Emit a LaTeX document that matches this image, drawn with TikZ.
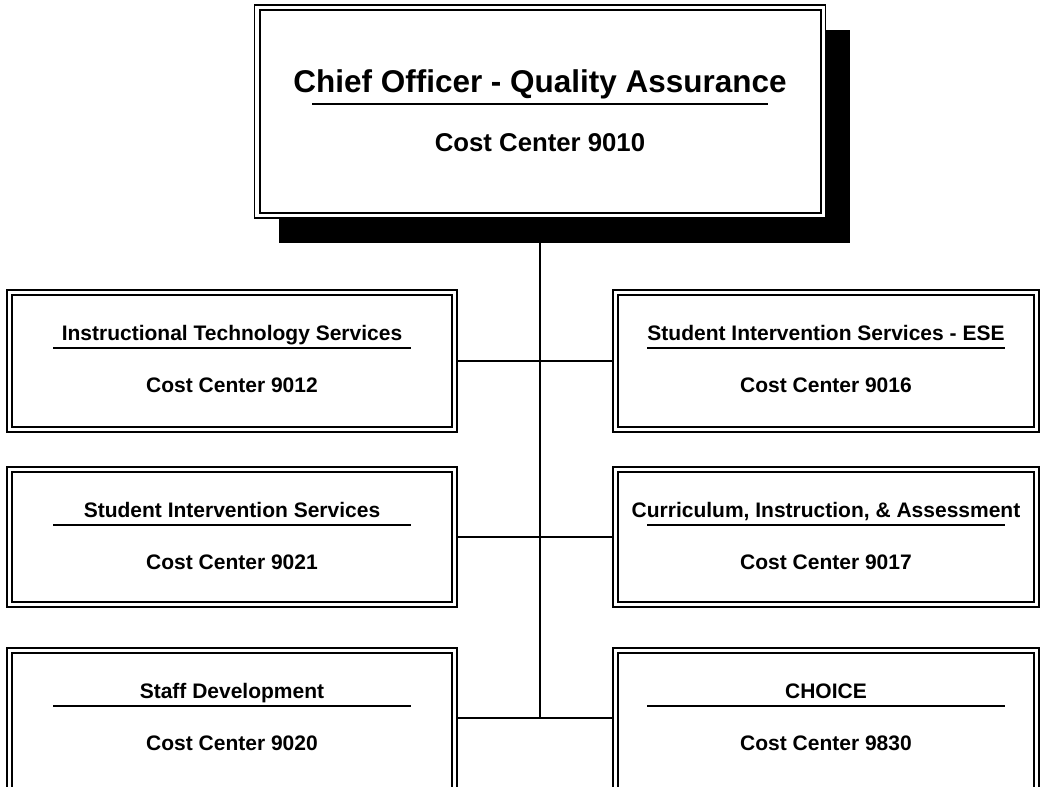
\documentclass[tikz,border=0pt]{standalone}
\usepackage{fontspec}
\setmainfont{Liberation Sans}
\usepackage{tikz}
\usetikzlibrary{calc, positioning, shadows}
\tikzset{
	unitbox/.style={draw, line width=0.8pt, rectangle, fill=white, anchor=north,
		inner sep=0pt, outer sep=0pt, minimum width=337.5pt},
	innerframe/.style={line width=1.5pt},
	rule/.style={line width=1.2pt},
	link/.style={line width=1.5pt}
}

\begin{document}
\begin{tikzpicture}[
	x=0.75pt, y=-0.75pt,
	chiefbox/.style={unitbox, minimum width=428.25pt, minimum height=159.75pt,
		drop shadow={shadow xshift=18pt, shadow yshift=-18.75pt, fill=black, opacity=1}},
	rightbox/.style={unitbox, minimum width=319.5pt},
	unitname/.style={font=\fontsize{15.75}{18}\selectfont\bfseries, anchor=base, inner sep=0pt},
	unitcost/.style={unitname}]
	\useasboundingbox (0,0) rectangle (1040,787);
	\node[chiefbox] (chief) at (540,5) {};
	\node[unitbox, minimum height=106.5pt] (its) at (232,290) {};
	\node[unitbox, minimum height=105pt] (sis) at (232,467) {};
	\node[unitbox, minimum height=120pt] (sd) at (232,648) {};
	\node[rightbox, minimum height=106.5pt] (ese) at (826,290) {};
	\node[rightbox, minimum height=105pt] (cia) at (826,467) {};
	\node[rightbox, minimum height=120pt] (choice) at (826,648) {};
	% inner lines of the double frames
	\foreach \n in {chief,its,sis,sd,ese,cia,choice}
		\draw[innerframe] ($(\n.north west)+(5,5)$) rectangle ($(\n.south east)+(-5,-5)$);
	% chief officer
	\node[unitname, font=\fontsize{23.6}{28}\selectfont\bfseries] (chief-name) at ($(chief.north)+(0,88)$) {Chief Officer - Quality Assurance};
	\draw[rule] ($(chief.north)+(-228,99)$) -- ($(chief.north)+(228,99)$);
	\node[unitcost, font=\fontsize{19.3}{23}\selectfont\bfseries] (chief-cost) at ($(chief.north)+(0,147)$) {Cost Center 9010};
	% cost centers
	\foreach \n/\t/\c in {its/{Instructional Technology Services}/9012,
		sis/{Student Intervention Services}/9021, sd/{Staff Development}/9020,
		ese/{Student Intervention Services - ESE}/9016,
		cia/{Curriculum, Instruction, \& Assessment}/9017, choice/CHOICE/9830}{
		\node[unitname] (\n-name) at ($(\n.north)+(0,51)$) {\t};
		\draw[rule] ($(\n.north)+(-179,58)$) -- ($(\n.north)+(179,58)$);
		\node[unitcost] (\n-cost) at ($(\n.north)+(0,103)$) {Cost Center \c};
	}
	% connectors
	\coordinate (hub) at (540,718);
	\draw[link] (chief.south) -- (hub);
	\draw[link] (its.east) -- (ese.west);
	\draw[link] (sis.east) -- (cia.west);
	\draw[link] (sd.east |- hub) -- (choice.west |- hub);
\end{tikzpicture}
\end{document}
